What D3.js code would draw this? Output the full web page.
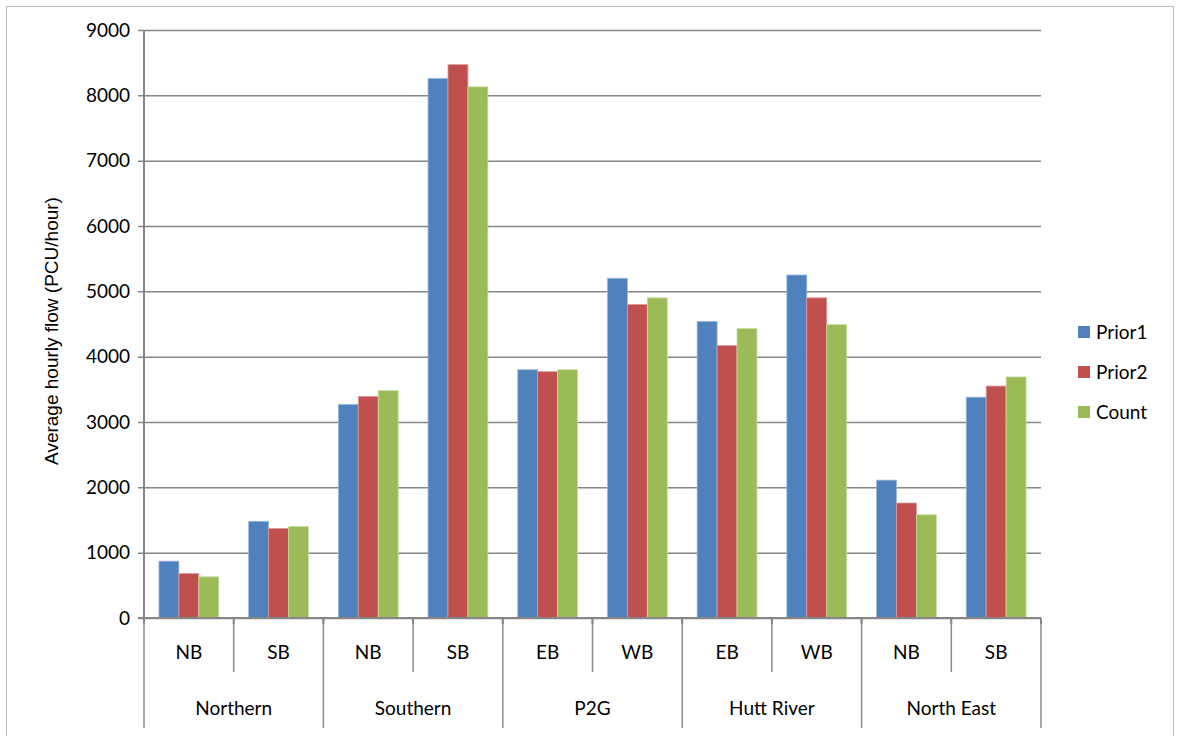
<!DOCTYPE html>
<html>
<head>
<meta charset="utf-8">
<script src="https://cdn.jsdelivr.net/npm/d3@7"></script>
<style>
  html, body { margin: 0; padding: 0; background: #fff; }
  svg { display: block; font-family: Lato, "Open Sans", sans-serif; }
</style>
</head>
<body>
<svg id="chart" width="1179" height="736"></svg>
<script>
// Corridor groups and the direction counted within each
const groups = ["Northern", "Southern", "P2G", "Hutt River", "North East"];
const directions = ["NB", "SB", "NB", "SB", "EB", "WB", "EB", "WB", "NB", "SB"];
const groupOf = [0, 0, 1, 1, 2, 2, 3, 3, 4, 4];

// Average hourly flow (PCU/hour) per direction
const prior1 = [870, 1480, 3270, 8260, 3800, 5200, 4540, 5250, 2110, 3380];
const prior2 = [680, 1370, 3390, 8470, 3770, 4800, 4170, 4900, 1760, 3550];
const count  = [630, 1400, 3480, 8130, 3800, 4900, 4430, 4490, 1580, 3690];

const seriesNames = ["Prior1", "Prior2", "Count"];
const seriesValues = [prior1, prior2, count];
const seriesColors = ["#4F81BD", "#C0504D", "#9BBB59"];
const seriesEdges = ["#9DB7DC", "#DE9A98", "#C9DDA5"];
const yTicks = [0, 1000, 2000, 3000, 4000, 5000, 6000, 7000, 8000, 9000];

(function drawChart() {
  const svg = d3.select("#chart");
  const plotLeft = 144, plotRight = 1041, plotTop = 30, plotBottom = 618;

  // Outer frame
  svg.append("rect")
    .attr("x", 6.5).attr("y", 6.5).attr("width", 1167).attr("height", 740)
    .attr("fill", "none").attr("stroke", "#BEBEBE").attr("stroke-width", 1);

  const y = d3.scaleLinear().domain([0, 9000]).range([plotBottom, plotTop]);
  const x = d3.scaleBand().domain(d3.range(directions.length)).range([plotLeft, plotRight]).padding(0);
  const xs = d3.scaleBand().domain(seriesNames).range([0, x.bandwidth()])
    .paddingInner(0).paddingOuter(0.75);

  // Horizontal gridlines with tick labels
  const yAxis = d3.axisLeft(y).tickValues(yTicks).tickSize(-(plotRight - plotLeft)).tickSizeOuter(0)
    .tickFormat(d3.format("d")).tickPadding(14);
  const gy = svg.append("g").attr("transform", `translate(${plotLeft},0)`).call(yAxis);
  gy.select(".domain").remove();
  gy.selectAll(".tick line").attr("stroke", "#868686").attr("stroke-width", 1.5).attr("x1", -6);
  gy.selectAll(".tick text").attr("fill", "#000").attr("font-size", 19)
    .attr("font-family", "Lato, sans-serif");

  // Bars
  seriesNames.forEach((name, s) => {
    svg.append("g").selectAll("rect")
      .data(seriesValues[s])
      .join("rect")
      .attr("x", (d, i) => x(i) + xs(name))
      .attr("y", d => y(d))
      .attr("width", xs.bandwidth())
      .attr("height", d => y(0) - y(d))
      .attr("fill", seriesColors[s])
      .attr("stroke", seriesEdges[s])
      .attr("stroke-width", 0.8);
  });

  // Value axis line
  svg.append("line")
    .attr("x1", plotLeft).attr("x2", plotLeft).attr("y1", plotTop).attr("y2", plotBottom)
    .attr("stroke", "#868686").attr("stroke-width", 2);

  // Category axis baseline
  svg.append("line")
    .attr("x1", plotLeft - 6).attr("x2", plotRight).attr("y1", plotBottom).attr("y2", plotBottom)
    .attr("stroke", "#868686").attr("stroke-width", 2);

  // Multi-level category separators
  const innerEnd = 672, outerEnd = 728;
  d3.range(directions.length + 1).forEach(i => {
    const bx = i < directions.length ? x(i) : plotRight;
    const isOuter = i === 0 || i === directions.length || groupOf[i] !== groupOf[i - 1];
    svg.append("line")
      .attr("x1", bx).attr("x2", bx).attr("y1", plotBottom).attr("y2", isOuter ? outerEnd : innerEnd)
      .attr("stroke", "#8C8C8C").attr("stroke-width", 1.5);
    svg.append("line")
      .attr("x1", bx).attr("x2", bx).attr("y1", plotBottom).attr("y2", plotBottom + 6)
      .attr("stroke", "#868686").attr("stroke-width", 2);
  });

  // Direction labels
  svg.append("g").selectAll("text")
    .data(directions)
    .join("text")
    .attr("x", (d, i) => x(i) + x.bandwidth() / 2)
    .attr("y", 659)
    .attr("text-anchor", "middle")
    .attr("font-size", 19)
    .attr("fill", "#000")
    .text(d => d);

  // Group labels
  svg.append("g").selectAll("text")
    .data(groups)
    .join("text")
    .attr("x", (d, g) => {
      const idx = groupOf.map((v, i) => v === g ? i : -1).filter(i => i >= 0);
      return (x(idx[0]) + x(idx[idx.length - 1]) + x.bandwidth()) / 2;
    })
    .attr("y", 715)
    .attr("text-anchor", "middle")
    .attr("font-size", 19)
    .attr("fill", "#000")
    .text(d => d);

  // Value axis title
  svg.append("text")
    .attr("transform", "translate(58,331) rotate(-90)")
    .attr("text-anchor", "middle")
    .attr("font-family", "'Liberation Sans', Arial, sans-serif")
    .attr("font-size", 19)
    .attr("fill", "#000")
    .text("Average hourly flow  (PCU/hour)");

  // Legend
  const legend = svg.append("g").attr("transform", "translate(1078,332)");
  seriesNames.forEach((name, s) => {
    const row = legend.append("g").attr("transform", `translate(0,${s * 40})`);
    row.append("rect").attr("x", 0).attr("y", -6).attr("width", 12).attr("height", 12)
      .attr("fill", seriesColors[s]);
    row.append("text").attr("x", 18).attr("y", 7).attr("font-size", 19).attr("fill", "#000")
      .text(name);
  });
})();
</script>
</body>
</html>
